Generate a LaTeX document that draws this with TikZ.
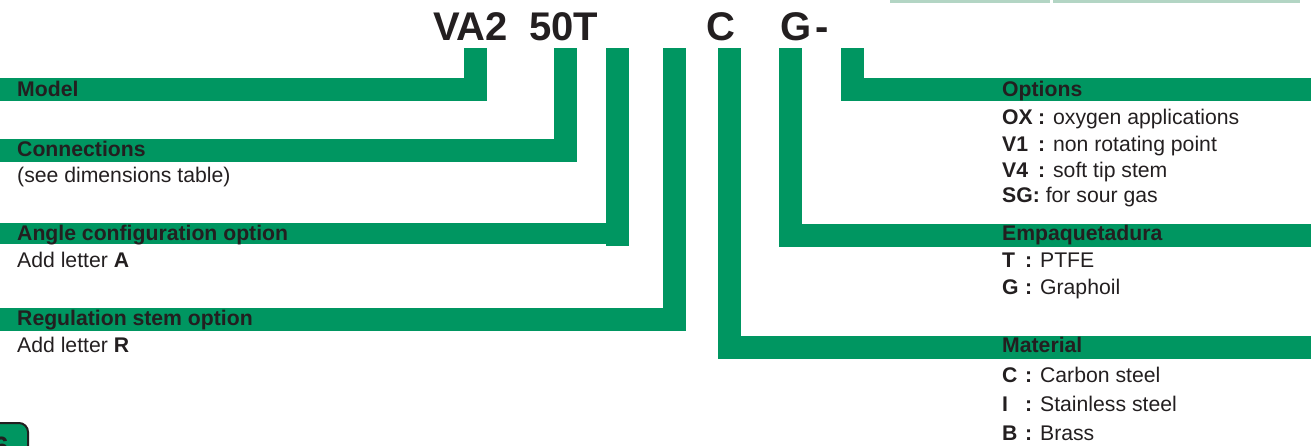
\documentclass[tikz,border=0pt]{standalone}
\usepackage{fontspec}
\setmainfont{Liberation Sans}
\definecolor{gr}{HTML}{009661}
\definecolor{lgr}{HTML}{B3D5C4}
\definecolor{ink}{HTML}{231F20}
\begin{document}
\begin{tikzpicture}[x=1pt,y=-1pt,
  bar/.style={fill=gr,draw=none},
  big/.style={anchor=base west,inner sep=0pt,text=ink,font=\fontsize{40}{44}\selectfont\bfseries},
  head/.style={anchor=base west,inner sep=0pt,text=ink,font=\fontsize{21.2}{24}\selectfont\bfseries},
  txt/.style={anchor=base west,inner sep=0pt,text=ink,font=\fontsize{21.2}{24}\selectfont}]
\useasboundingbox (0,0) rectangle (1311,445);
\begin{scope}
\clip (0,0) rectangle (1311,445);
% top light lines
\fill[lgr] (890,0) rectangle (1050,3);
\fill[lgr] (1053,0) rectangle (1300,3);
% badge bottom left
\draw[fill=gr,draw=ink,line width=2pt,rounded corners=9pt] (-30,423) rectangle (28,480);
\node[anchor=base west,inner sep=0pt,text=ink,font=\fontsize{28}{30}\selectfont\bfseries] (pg) at (-7,456) {6};
\end{scope}
% code text
\node[big] (va) at (433,40.7) {VA2};
\node[big] (fifty) at (529,40.7) {50T};
\node[big] (cc) at (706.5,40.7) {C};
\node[big] (gg) at (780,40.7) {G};
\node[big] (dash) at (815,40.7) {-};
% bars: Model
\fill[bar] (464,48) rectangle (487,100.5);
\fill[bar] (0,78.3) rectangle (487,100.5);
% Connections
\fill[bar] (554,48) rectangle (577,161.5);
\fill[bar] (0,139) rectangle (577,161.5);
% Angle
\fill[bar] (606,48) rectangle (629,245.5);
\fill[bar] (0,223.3) rectangle (629,243.5);
% Regulation
\fill[bar] (663,48) rectangle (686,330.7);
\fill[bar] (0,308.3) rectangle (686,330.7);
% Material
\fill[bar] (718,48) rectangle (741,358.7);
\fill[bar] (718,336) rectangle (1311,358.7);
% Empaquetadura
\fill[bar] (779,48) rectangle (802,246.7);
\fill[bar] (779,224) rectangle (1311,246.7);
% Options
\fill[bar] (841,48) rectangle (864,100.5);
\fill[bar] (841,78.3) rectangle (1311,100.5);
% left labels
\node[head] (model) at (17,96.7) {Model};
\node[head] (conn) at (17,156) {Connections};
\node[txt] (connt) at (17,182) {(see dimensions table)};
\node[head] (angle) at (17,240.7) {Angle configuration option};
\node[txt] (anglet) at (17,267.7) {Add letter \textbf{A}};
\node[head] (reg) at (17,325.5) {Regulation stem option};
\node[txt] (regt) at (17,352.3) {Add letter \textbf{R}};
% right: options
\node[head] (opt) at (1002,96.7) {Options};
\node[txt] (ox) at (1002,124) {\makebox[36pt][l]{\bfseries OX}\textbf{:} oxygen applications};
\node[txt] (v1) at (1002,151) {\makebox[36pt][l]{\bfseries V1}\textbf{:} non rotating point};
\node[txt] (v4) at (1002,177.7) {\makebox[36pt][l]{\bfseries V4}\textbf{:} soft tip stem};
\node[txt] (sg) at (1002,202.7) {\textbf{SG:} for sour gas};
% empaquetadura
\node[head] (emp) at (1002,240.7) {Empaquetadura};
\node[txt] (t) at (1002,267.3) {\makebox[23pt][l]{\bfseries T}\textbf{:} PTFE};
\node[txt] (g) at (1002,294) {\makebox[23pt][l]{\bfseries G}\textbf{:} Graphoil};
% material
\node[head] (mat) at (1002,352.7) {Material};
\node[txt] (c) at (1002,382.7) {\makebox[23pt][l]{\bfseries C}\textbf{:} Carbon steel};
\node[txt] (i) at (1002,411) {\makebox[23pt][l]{\bfseries I}\textbf{:} Stainless steel};
\node[txt] (b) at (1002,440) {\makebox[23pt][l]{\bfseries B}\textbf{:} Brass};
\end{tikzpicture}
\end{document}
